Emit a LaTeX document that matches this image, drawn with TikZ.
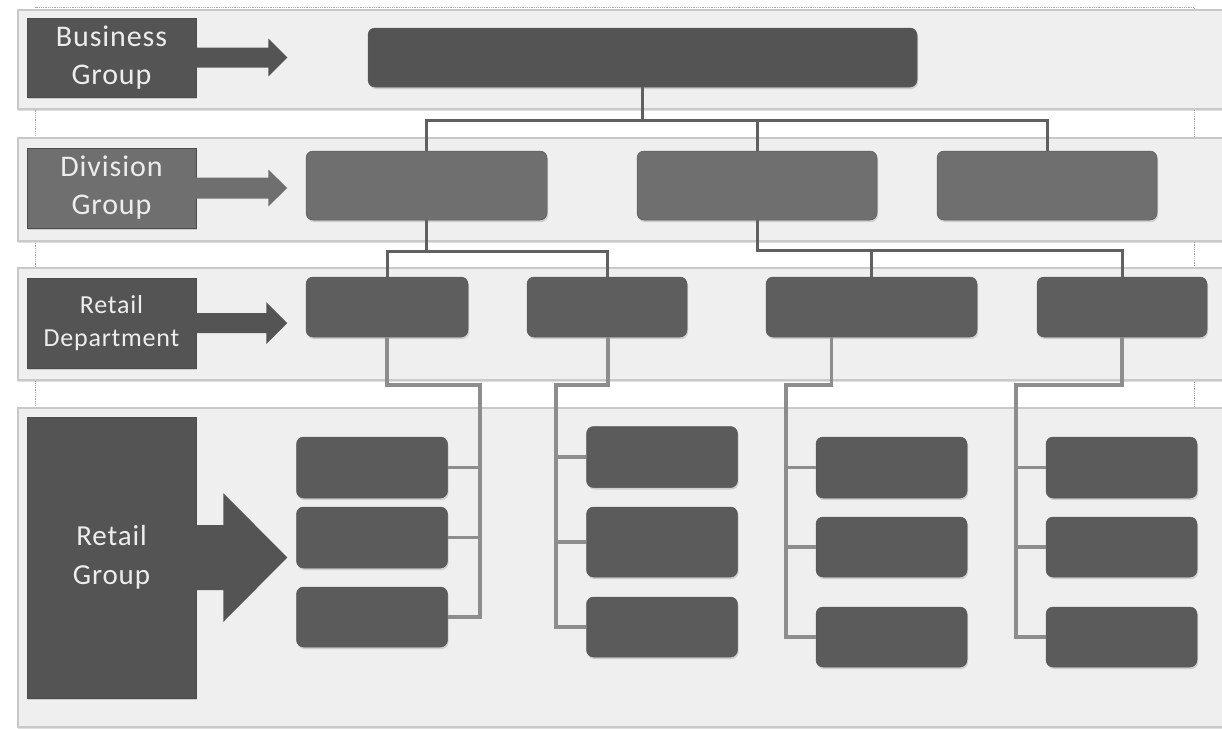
\documentclass[tikz,border=0pt]{standalone}
\usepackage{fontspec}
\setmainfont{Carlito}[LetterSpace=3]
\usetikzlibrary{shadows}
\definecolor{bandfill}{HTML}{EFEFEF}
\definecolor{bandline}{HTML}{C9C9C9}
\definecolor{cbus}{HTML}{545454}
\definecolor{cdiv}{HTML}{6F6F6F}
\definecolor{cdep}{HTML}{5E5E5E}
\definecolor{cret}{HTML}{5B5B5B}
\definecolor{cline}{HTML}{606060}
\definecolor{csub}{HTML}{8D8D8D}

\begin{document}
\begin{tikzpicture}[x=1pt, y=-1pt,
  band/.style={fill=bandfill, draw=bandline, line width=1.2pt, drop shadow={shadow xshift=0pt, shadow yshift=-2pt, opacity=.25}},
  lbl/.style={rectangle, draw=black!70, line width=.5pt, text=white!93!black, align=center, inner sep=0pt, minimum width=169, minimum height=#1, font=\fontsize{30}{38}\selectfont, drop shadow={shadow xshift=1pt, shadow yshift=-2pt, opacity=.3}},
  box/.style={rectangle, rounded corners=7pt, draw=black!65, line width=.5pt, inner sep=0pt, drop shadow={shadow xshift=1pt, shadow yshift=-2pt, opacity=.3}},
  toplink/.style={draw=cline, line width=3pt},
  sublink/.style={draw=csub, line width=3.5pt}]
\useasboundingbox (0,0) rectangle (1222,728);
\fill[white] (0,0) rectangle (1222,728);
% dotted frame behind the bands
\draw[gray!70, densely dotted, line width=.8pt] (35,7) rectangle (1194,727);
% bands
\draw[band] (18,10) rectangle (1226,109);
\draw[band] (18,138) rectangle (1226,241);
\draw[band] (18,268) rectangle (1226,380);
\draw[band] (18,408) rectangle (1226,727);

% level labels
\node[lbl=79, fill=cbus] (lblBus) at (111.5,57.5) {Business\\Group};
\node[lbl=80, fill=cdiv] (lblDiv) at (111.5,188) {Division\\Group};
\node[lbl=90, fill=cbus, font=\fontsize{26}{33}\selectfont] (lblDep) at (111.5,323) {Retail\\Department};
\node[lbl=281, fill=cbus, font=\fontsize{29}{39}\selectfont] (lblRet) at (111.5,557.5) {Retail\\Group};
\foreach \n/\s/\h/\a/\b/\c in {lblBus/10/19/72/19/cbus, lblDiv/10.5/18.5/72/19/cdiv, lblDep/10/21/70/21/cbus, lblRet/32.5/64.5/27/64/cbus}
 \fill[\c] (\n.east) ++(-1,-\s) -- ++(\a+1,0) -- ++(0,\s-\h) -- ++(\b,\h) -- ++(-\b,\h) -- ++(0,\s-\h) -- ++(-\a-1,0) -- cycle;

% boxes
\node[box, fill=cbus, minimum width=549, minimum height=59] (bus) at (642.5,57.5) {};
\node[box, fill=cdiv, minimum width=241, minimum height=69] (div1) at (426.5,185.5) {};
\node[box, fill=cdiv, minimum width=240, minimum height=69] (div2) at (757,185.5) {};
\node[box, fill=cdiv, minimum width=220, minimum height=69] (div3) at (1047,185.5) {};
\node[box, fill=cdep, minimum width=162, minimum height=60] (dep1) at (387,307) {};
\node[box, fill=cdep, minimum width=160, minimum height=60] (dep2) at (607,307) {};
\node[box, fill=cdep, minimum width=211, minimum height=60] (dep3) at (871.5,307) {};
\node[box, fill=cdep, minimum width=170, minimum height=60] (dep4) at (1122,307) {};
\foreach \c/\x/\ya/\yb/\yc/\hb in {1/372/467.5/537.5/617/61, 2/662/457/542/627/70, 3/891.5/467.5/547/637/60, 4/1121.5/467.5/547/637/60} {
 \node[box, fill=cret, minimum width=151, minimum height=61] (ret\c1) at (\x,\ya) {};
 \node[box, fill=cret, minimum width=151, minimum height=\hb] (ret\c2) at (\x,\yb) {};
 \node[box, fill=cret, minimum width=151, minimum height=60] (ret\c3) at (\x,\yc) {};
}

% connectors
\foreach \d in {div1,div2,div3}
 \draw[toplink] (bus.south) -- ++(0,33) -| (\d.north);
\foreach \d in {dep1,dep2}
 \draw[toplink] (div1.south) -- ++(0,31) -| (\d.north);
\foreach \d in {dep3,dep4}
 \draw[toplink] (div2.south) -- ++(0,30) -| (\d.north);
\foreach \c/\d/\dx/\bx/\side in {1/dep1/0/480/east, 2/dep2/1/556/west, 3/dep3/-40/786/west, 4/dep4/0/1016/west} {
 \coordinate (bar\c) at (\bx,385);
 \draw[sublink] ([xshift=\dx]\d.south) |- (bar\c) |- (ret\c3.\side);
 \foreach \k in {1,2}
  \draw[sublink] (ret\c\k.\side) -- (ret\c\k.\side -| bar\c);
}
\end{tikzpicture}
\end{document}
